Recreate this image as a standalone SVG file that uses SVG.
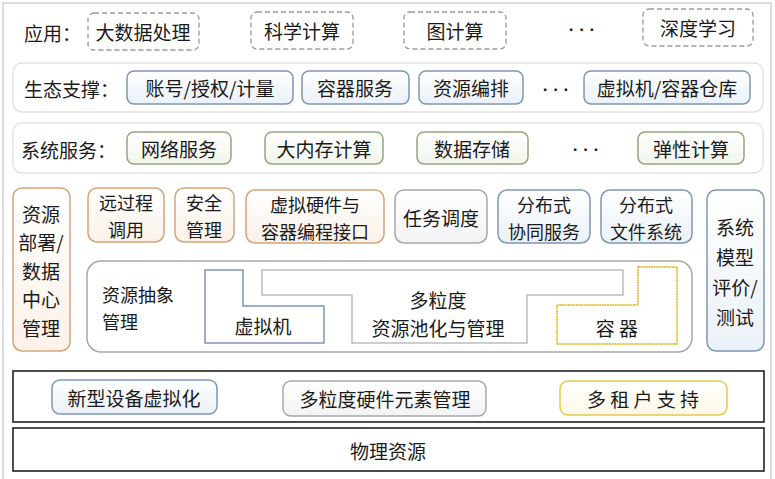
<svg xmlns="http://www.w3.org/2000/svg" width="775" height="479" viewBox="0 0 775 479">
<defs>
<linearGradient id="gBlue" x1="0" y1="0" x2="0" y2="1"><stop offset="0" stop-color="#ffffff"/><stop offset="1" stop-color="#eaf1f8"/></linearGradient>
<linearGradient id="gGreen" x1="0" y1="0" x2="0" y2="1"><stop offset="0" stop-color="#ffffff"/><stop offset="1" stop-color="#f1f5ec"/></linearGradient>
<linearGradient id="gOrange" x1="0" y1="0" x2="0" y2="1"><stop offset="0" stop-color="#ffffff"/><stop offset="1" stop-color="#fbf1e8"/></linearGradient>
<linearGradient id="gYellow" x1="0" y1="0" x2="0" y2="1"><stop offset="0" stop-color="#ffffff"/><stop offset="1" stop-color="#fdf8e6"/></linearGradient>
<linearGradient id="gGray" x1="0" y1="0" x2="0" y2="1"><stop offset="0" stop-color="#ffffff"/><stop offset="1" stop-color="#f3f3f3"/></linearGradient>
</defs>
<style>
text{font-family:"Noto Sans CJK SC","Liberation Sans",sans-serif;font-size:19px;fill:#1a1a1a;text-anchor:middle;dominant-baseline:central}
.lbl{text-anchor:start}
.two{font-size:18px}
.dots{font-family:"Liberation Sans",sans-serif;font-size:17px;font-weight:bold}
.dash{fill:#fff;stroke:#9a9a9a;stroke-width:1.3;stroke-dasharray:5 3}
.blue{fill:url(#gBlue);stroke:#7d97b5;stroke-width:1.5}
.green{fill:url(#gGreen);stroke:#93a67f;stroke-width:1.5}
.orange{fill:url(#gOrange);stroke:#d5a47c;stroke-width:1.5}
.yellow{fill:url(#gYellow);stroke:#e6c850;stroke-width:1.5}
.gray{fill:url(#gGray);stroke:#a8a8a8;stroke-width:1.5}
.band{fill:#fff;stroke:#e2e2e2;stroke-width:1.5}
.black{fill:#fff;stroke:#222;stroke-width:1.6}
</style>
<rect x="0" y="0" width="775" height="479" fill="#fff"/>
<rect x="3" y="3" width="768" height="490" fill="none" stroke="#dcdcdc" stroke-width="2"/>

<g id="row-app">
<text class="lbl" x="24" y="32">应用：</text>
<g id="n-bigdata"><rect class="dash" x="88" y="13" width="111" height="37" rx="6"/><text x="143" y="31">大数据处理</text></g>
<g id="n-sci"><rect class="dash" x="251" y="12" width="102" height="37" rx="6"/><text x="302" y="30">科学计算</text></g>
<g id="n-graph"><rect class="dash" x="404" y="12" width="102" height="37" rx="6"/><text x="455" y="30">图计算</text></g>
<text class="dots" x="582" y="29">· · ·</text>
<g id="n-dl"><rect class="dash" x="643" y="9" width="110" height="37" rx="6"/><text x="698" y="27">深度学习</text></g>
</g>

<g id="row-eco">
<rect class="band" x="13" y="63" width="750" height="49" rx="9"/>
<text class="lbl" x="24" y="88">生态支撑：</text>
<g id="n-acct"><rect class="blue" x="127" y="71" width="166" height="33" rx="7"/><text x="210" y="87">账号/授权/计量</text></g>
<g id="n-csvc"><rect class="blue" x="302" y="71" width="107" height="33" rx="7"/><text x="355" y="87">容器服务</text></g>
<g id="n-orch"><rect class="blue" x="419" y="71" width="104" height="33" rx="7"/><text x="471" y="87">资源编排</text></g>
<text class="dots" x="556" y="89">· · ·</text>
<g id="n-repo"><rect class="blue" x="584" y="71" width="166" height="33" rx="7"/><text x="667" y="87">虚拟机/容器仓库</text></g>
</g>

<g id="row-sys">
<rect class="band" x="13" y="123" width="750" height="50" rx="9"/>
<text class="lbl" x="21" y="149">系统服务：</text>
<g id="n-net"><rect class="green" x="127" y="132" width="104" height="32" rx="7"/><text x="179" y="148">网络服务</text></g>
<g id="n-mem"><rect class="green" x="265" y="132" width="118" height="32" rx="7"/><text x="324" y="148">大内存计算</text></g>
<g id="n-store"><rect class="green" x="417" y="132" width="111" height="32" rx="7"/><text x="472" y="148">数据存储</text></g>
<text class="dots" x="586" y="149">· · ·</text>
<g id="n-elastic"><rect class="green" x="638" y="132" width="106" height="32" rx="7"/><text x="691" y="148">弹性计算</text></g>
</g>

<g id="n-deploy"><rect class="orange" x="13" y="188" width="57" height="163" rx="9"/>
<text x="41" y="213"><tspan x="41" y="213">资源</tspan><tspan x="41" y="241">部署/</tspan><tspan x="41" y="270">数据</tspan><tspan x="41" y="298">中心</tspan><tspan x="41" y="327">管理</tspan></text></g>

<g id="n-rpc"><rect class="orange" x="88" y="188" width="76" height="54" rx="9"/><text class="two" x="126" y="202"><tspan x="126" y="202">远过程</tspan><tspan x="126" y="228.5">调用</tspan></text></g>
<g id="n-sec"><rect class="orange" x="175" y="188" width="59" height="54" rx="9"/><text class="two" x="204" y="202"><tspan x="204" y="202">安全</tspan><tspan x="204" y="228.5">管理</tspan></text></g>
<g id="n-api"><rect class="orange" x="246" y="190" width="138" height="53" rx="9"/><text class="two" x="315" y="204"><tspan x="315" y="204">虚拟硬件与</tspan><tspan x="315" y="230.5">容器编程接口</tspan></text></g>
<g id="n-sched"><rect class="gray" x="395" y="190" width="92" height="53" rx="9"/><text x="441" y="217">任务调度</text></g>
<g id="n-coord"><rect class="blue" x="498" y="190" width="92" height="53" rx="9"/><text class="two" x="544" y="204"><tspan x="544" y="204">分布式</tspan><tspan x="544" y="230.5">协同服务</tspan></text></g>
<g id="n-dfs"><rect class="blue" x="601" y="190" width="91" height="53" rx="9"/><text class="two" x="646" y="204"><tspan x="646" y="204">分布式</tspan><tspan x="646" y="230.5">文件系统</tspan></text></g>
<g id="n-eval"><rect class="blue" x="707" y="190" width="57" height="161" rx="9"/>
<text x="735" y="226"><tspan x="735" y="226">系统</tspan><tspan x="735" y="256">模型</tspan><tspan x="735" y="286">评价/</tspan><tspan x="735" y="316">测试</tspan></text></g>

<g id="n-abstract">
<rect fill="#fff" stroke="#a8a8a8" stroke-width="1.5" x="87" y="261" width="605" height="91" rx="14"/>
<text class="lbl two" x="102" y="294"><tspan x="102" y="294">资源抽象</tspan><tspan x="102" y="320.5">管理</tspan></text>
<g id="n-pool"><path d="M262,270 L623,270 L623,295 L527,295 L527,343 L352,343 L352,295 L262,295 Z" fill="#fff" stroke="#bdbdbd" stroke-width="1.5"/>
<text x="438" y="299"><tspan x="438" y="299">多粒度</tspan><tspan x="438" y="326.5">资源池化与管理</tspan></text></g>
<g id="n-vm"><path d="M205,270 L243,270 L243,306 L324,306 L324,343 L205,343 Z" fill="#fff" stroke="#7d97b5" stroke-width="1.5"/>
<text x="263" y="325">虚拟机</text></g>
<g id="n-ctr"><path d="M638,267 L677,267 L677,344 L557,344 L557,305 L638,305 Z" fill="#fff" stroke="#e6c850" stroke-width="2" stroke-dasharray="2 0.6"/>
<text x="617" y="327">容 器</text></g>
</g>

<g id="row-hw">
<rect class="black" x="13" y="371" width="751" height="51"/>
<g id="n-newdev"><rect class="blue" x="52" y="380" width="165" height="34" rx="8"/><text x="134" y="397">新型设备虚拟化</text></g>
<g id="n-hwmgmt"><rect class="gray" x="283" y="381" width="203" height="35" rx="8"/><text x="385" y="398">多粒度硬件元素管理</text></g>
<g id="n-tenant"><rect class="yellow" x="560" y="381" width="167" height="34" rx="8"/><text x="643" y="398">多 租 户 支 持</text></g>
</g>

<g id="n-phys"><rect class="black" x="13" y="428" width="751" height="43"/><text x="388" y="450">物理资源</text></g>

<g id="connectors"></g>
</svg>
